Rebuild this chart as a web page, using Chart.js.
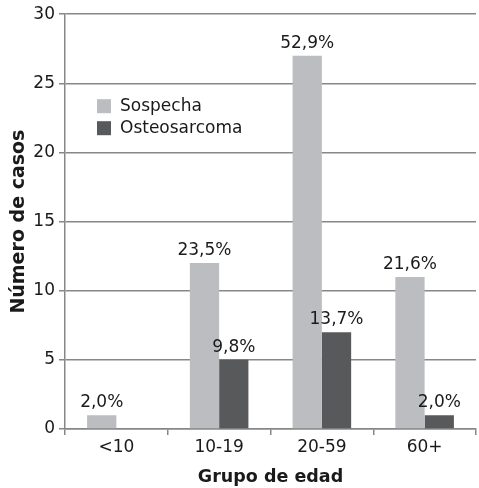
<!DOCTYPE html>
<html lang="es">
<head>
<meta charset="UTF-8">
<title>Grupo de edad</title>
<script src="https://cdn.jsdelivr.net/npm/chart.js"></script>
<style>
  html, body { margin: 0; padding: 0; background: #fff; }
  #wrap { width: 479px; height: 488px; }
</style>
</head>
<body>
<div id="wrap"><canvas id="myBarChart"></canvas></div>
<script>
// data
const groups = ['<10', '10-19', '20-59', '60+'];
const sospecha = [1, 12, 27, 11];
const osteosarcoma = [0, 5, 7, 1];
const sospechaPct = ['2,0%', '23,5%', '52,9%', '21,6%'];
const osteoPct = [null, '9,8%', '13,7%', '2,0%'];
const yTicks = [0, 5, 10, 15, 20, 25, 30];

const FONT = "'DejaVu Sans', Verdana, sans-serif";
const SIZE = 17;
const gridColor = '#878787';

// percentage labels above bars
const pctLabels = {
    id: 'pctLabels',
    afterDatasetsDraw(chart) {
        const ctx = chart.ctx;
        const lists = [sospechaPct, osteoPct];
        ctx.save();
        ctx.font = SIZE + 'px ' + FONT;
        ctx.fillStyle = '#1a1a1a';
        ctx.textAlign = 'center';
        ctx.textBaseline = 'alphabetic';
        chart.data.datasets.forEach((ds, i) => {
            chart.getDatasetMeta(i).data.forEach((bar, j) => {
                const txt = lists[i][j];
                if (!txt) return;
                ctx.fillText(txt, bar.x, bar.y - 8);
            });
        });
        ctx.restore();
    }
};

// legend drawn inside the plot area
const innerLegend = {
    id: 'innerLegend',
    afterDraw(chart) {
        const ctx = chart.ctx;
        const x = chart.chartArea.left + 32;
        let y = chart.chartArea.top + 85;
        ctx.save();
        ctx.font = SIZE + 'px ' + FONT;
        ctx.textBaseline = 'middle';
        chart.data.datasets.forEach(ds => {
            ctx.fillStyle = ds.backgroundColor;
            ctx.fillRect(x, y, 14, 14);
            ctx.fillStyle = '#1a1a1a';
            ctx.fillText(ds.label, x + 23, y + 7);
            y += 22;
        });
        ctx.restore();
    }
};

new Chart(document.getElementById('myBarChart'), {
    type: 'bar',
    data: {
        labels: groups,
        datasets: [
            { label: 'Sospecha', data: sospecha, backgroundColor: '#bcbdc0' },
            { label: 'Osteosarcoma', data: osteosarcoma, backgroundColor: '#58595b' }
        ]
    },
    options: {
        responsive: true,
        maintainAspectRatio: false,
        animation: false,
        layout: { padding: { top: 3, right: 3, left: 0, bottom: 0 } },
        categoryPercentage: 0.57,
        barPercentage: 1,
        plugins: {
            legend: { display: false },
            tooltip: { enabled: false }
        },
        scales: {
            x: {
                grid: {
                    offset: true,
                    drawOnChartArea: false,
                    color: gridColor,
                    lineWidth: 1.5,
                    tickLength: 6
                },
                border: { color: gridColor, width: 1.5 },
                ticks: { color: '#1a1a1a', font: { family: FONT, size: SIZE }, padding: 2 },
                title: {
                    display: true,
                    text: 'Grupo de edad',
                    color: '#1a1a1a',
                    font: { family: FONT, size: 17.5, weight: 'bold' },
                    padding: { top: 11, bottom: 0 }
                },
                afterFit(s) { s.height = 59; }
            },
            y: {
                min: 0,
                max: 30,
                afterBuildTicks(s) { s.ticks = yTicks.map(v => ({ value: v })); },
                grid: { color: gridColor, lineWidth: 1.5, tickLength: 6 },
                border: { color: gridColor, width: 1.5 },
                ticks: { color: '#1a1a1a', font: { family: FONT, size: SIZE }, padding: 4 },
                title: {
                    display: true,
                    text: 'Número de casos',
                    color: '#1a1a1a',
                    font: { family: FONT, size: 19, weight: 'bold' },
                    padding: { top: 8, bottom: 2 }
                },
                afterFit(s) { s.width = 65; }
            }
        }
    },
    plugins: [pctLabels, innerLegend]
});
</script>
</body>
</html>
